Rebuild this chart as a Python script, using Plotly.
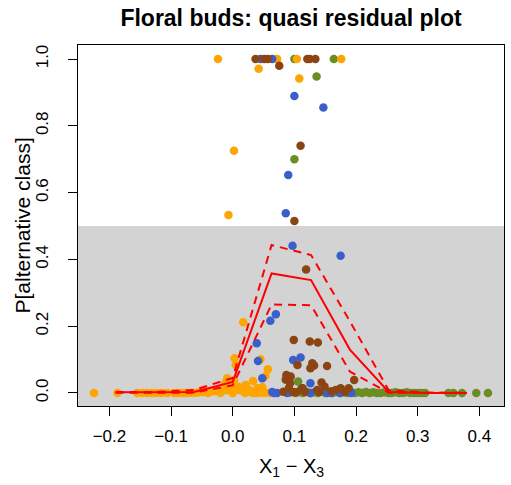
import plotly.graph_objects as go

# ---------------- data ----------------
orange_x = [-0.024, 0.070, 0.072, 0.104, 0.176, 0.042, 0.108, 0.002, -0.007,
            0.017, 0.003, 0.045, 0.005, 0.057, 0.053, -0.009, 0.002, 0.033, 0.021,
            -0.012, 0.010, 0.040, 0.048, 0.026,
            -0.225, -0.187, -0.155, -0.147, -0.139, -0.131, -0.123, -0.115, -0.106,
            -0.090, -0.084, -0.078, -0.072, -0.066, -0.060, -0.054, -0.048, -0.042,
            -0.036, -0.030, -0.024, -0.018, -0.012, -0.006, 0.000, 0.006, 0.012,
            0.018, 0.024, 0.030, 0.036, 0.042, 0.048, 0.054, 0.060, 0.066,
            -0.040, -0.020, 0.000, 0.020, 0.040, -0.095, -0.003, 0.015, 0.033]
orange_y = [1.0, 1.0, 1.0, 1.0, 1.0, 0.971, 0.942, 0.725, 0.533,
            0.212, 0.104, 0.101, 0.084, 0.071, 0.051, 0.044, 0.037, 0.036, 0.024,
            0.030, 0.018, 0.014, 0.018, 0.010,
            0.0, 0.0, 0.0, 0.0, 0.0, 0.0, 0.0, 0.0, 0.0,
            0.0, 0.0, 0.0, 0.0, 0.001, 0.001, 0.002, 0.003, 0.003,
            0.004, 0.005, 0.006, 0.007, 0.008, 0.008, 0.010, 0.010, 0.008,
            0.007, 0.004, 0.003, 0.002, 0.002, 0.001, 0.001, 0.0, 0.0,
            0.0, 0.0, 0.0, 0.0, 0.0, 0.0, 0.016, 0.014, 0.0]

brown_x = [0.037, 0.051, 0.057, 0.121, 0.125, 0.134, 0.0755, 0.110, 0.100, 0.119,
           0.099, 0.125, 0.138, 0.105, 0.129, 0.132, 0.126, 0.153, 0.087, 0.094,
           0.093, 0.144, 0.149, 0.197, 0.086,
           0.091, 0.102, 0.110, 0.113, 0.117, 0.137, 0.140, 0.160, 0.167, 0.175,
           0.182, 0.188, 0.082, 0.098]
brown_y = [1.0, 1.0, 1.0, 1.0, 1.0, 1.0, 0.980, 0.740, 0.515, 0.370,
           0.159, 0.154, 0.151, 0.084, 0.089, 0.082, 0.074, 0.081, 0.054, 0.049,
           0.029, 0.031, 0.019, 0.039, 0.040,
           0.014, 0.002, 0.009, 0.014, 0.004, 0.009, 0.003, 0.005, 0.009, 0.014,
           0.003, 0.014, 0.004, 0.003]

blue_x = [0.045, 0.064, 0.100, 0.147, 0.090, 0.086, 0.097, 0.175, 0.070, 0.061,
          0.039, 0.041, 0.098, 0.110, 0.048, 0.126, 0.113,
          0.064, 0.067, 0.072, 0.088, 0.091, 0.126, 0.153, 0.160, 0.174, 0.192]
blue_y = [1.0, 1.0, 0.889, 0.855, 0.653, 0.538, 0.441, 0.411, 0.236, 0.216,
          0.149, 0.096, 0.099, 0.106, 0.044, 0.029, 0.014,
          0.003, 0.0, 0.0, 0.0, 0.001, 0.0, 0.0, 0.0, 0.0, 0.0]

green_x = [0.100, 0.164, 0.136, 0.100, 0.106,
           0.096, 0.102, 0.108, 0.114, 0.120, 0.126, 0.132, 0.138, 0.144, 0.150,
           0.156, 0.162, 0.168, 0.174, 0.180, 0.186, 0.192, 0.198, 0.204, 0.210,
           0.216, 0.222, 0.228, 0.234, 0.240, 0.246, 0.252, 0.258, 0.264, 0.270,
           0.276, 0.282, 0.288, 0.294, 0.300, 0.306, 0.312,
           0.350, 0.358, 0.372, 0.395, 0.414]
green_y = [1.0, 1.0, 0.948, 0.700, 0.034,
           0.003, 0.0, 0.002, 0.0, 0.003, 0.0, 0.002, 0.0, 0.004, 0.0,
           0.002, 0.0, 0.003, 0.0, 0.002, 0.0, 0.004, 0.0, 0.002, 0.0,
           0.003, 0.0, 0.002, 0.0, 0.0, 0.002, 0.0, 0.0, 0.002, 0.0,
           0.0, 0.002, 0.0, 0.0, 0.0, 0.0, 0.0,
           0.0, 0.0, 0.0, 0.0, 0.0]

bin_x = [-0.190, -0.127, -0.063, 0.000, 0.063, 0.127, 0.190, 0.253, 0.317, 0.380]
mean_y = [0.002, 0.002, 0.003, 0.033, 0.358, 0.338, 0.130, 0.003, 0.000, 0.000]
upper_y = [0.003, 0.003, 0.009, 0.045, 0.443, 0.413, 0.215, 0.008, 0.001, 0.001]
lower_y = [0.001, 0.001, 0.001, 0.023, 0.265, 0.263, 0.064, 0.001, 0.000, 0.000]

x_ticks = [-0.2, -0.1, 0.0, 0.1, 0.2, 0.3, 0.4]
x_tick_text = ["\u22120.2", "\u22120.1", "0.0", "0.1", "0.2", "0.3", "0.4"]
y_ticks = [0.0, 0.2, 0.4, 0.6, 0.8, 1.0]
y_tick_text = ["0.0", "0.2", "0.4", "0.6", "0.8", "1.0"]

title = "Floral buds: quasi residual plot"
xlabel = "X<sub>1</sub> \u2212 X<sub>3</sub>"
ylabel = "P[alternative class]"

# ---------------- figure ----------------
XR = [-0.251, 0.440]
YR = [-0.039, 1.042]
FONT = "Liberation Sans, Arial, Helvetica, sans-serif"
W, H = 511, 485
ML, MR, MT, MB = 78, 7, 45, 79

fig = go.Figure()

def pts(x, y, color):
    fig.add_trace(go.Scatter(x=x, y=y, mode="markers",
                             marker=dict(size=8.5, color=color, line=dict(width=0)),
                             hoverinfo="skip", showlegend=False))

pts(green_x, green_y, "#6B8E23")
pts(orange_x, orange_y, "#FFA500")
pts(blue_x, blue_y, "#3A5FCD")
pts(brown_x, brown_y, "#8B4513")

fig.add_trace(go.Scatter(x=bin_x, y=upper_y, mode="lines",
                         line=dict(color="#FF0000", width=2, dash="8px,6px"),
                         showlegend=False, hoverinfo="skip"))
fig.add_trace(go.Scatter(x=bin_x, y=lower_y, mode="lines",
                         line=dict(color="#FF0000", width=2, dash="8px,6px"),
                         showlegend=False, hoverinfo="skip"))
fig.add_trace(go.Scatter(x=bin_x, y=mean_y, mode="lines",
                         line=dict(color="#FF0000", width=2),
                         showlegend=False, hoverinfo="skip"))

fig.add_shape(type="rect", xref="paper", yref="y", x0=0, x1=1, y0=YR[0], y1=0.5,
              fillcolor="#D3D3D3", line=dict(width=0), layer="below")

plot_w = W - ML - MR
plot_h = H - MT - MB

fig.update_layout(
    width=W, height=H,
    margin=dict(l=ML, r=MR, t=MT, b=MB),
    paper_bgcolor="white", plot_bgcolor="white",
    font=dict(family=FONT, color="black"),
    title=dict(text="<b>" + title + "</b>", x=0.5, xref="paper", xanchor="center",
               y=1 - 18 / H, yref="container", yanchor="middle",
               font=dict(size=23, family=FONT, color="black")),
    xaxis=dict(range=XR, tickmode="array", tickvals=x_ticks, ticktext=x_tick_text,
               ticks="outside", ticklen=9, tickwidth=1, tickcolor="black",
               showline=True, linecolor="black", linewidth=1, mirror=True,
               showgrid=False, zeroline=False, tickfont=dict(size=17, family=FONT),
               ticklabelstandoff=6),
    yaxis=dict(range=YR, tickmode="array", tickvals=y_ticks, ticktext=y_tick_text,
               ticks="outside", ticklen=9, tickwidth=1, tickcolor="black",
               showline=True, linecolor="black", linewidth=1, mirror=True,
               showgrid=False, zeroline=False, tickangle=-90,
               tickfont=dict(size=17, family=FONT), ticklabelstandoff=13),
    annotations=[
        dict(text=xlabel, x=0.5, xref="paper", y=(H - MB - 467) / plot_h, yref="paper",
             showarrow=False, font=dict(size=20, family=FONT), xanchor="center",
             yanchor="middle"),
        dict(text=ylabel, x=(22 - ML) / plot_w, xref="paper", y=0.5, yref="paper",
             textangle=-90, showarrow=False, font=dict(size=21, family=FONT),
             xanchor="center", yanchor="middle"),
    ],
)

fig.write_html("out.html")
